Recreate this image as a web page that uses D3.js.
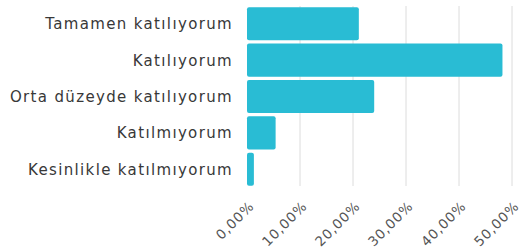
<!DOCTYPE html>
<html><head><meta charset="utf-8">
<script src="https://cdn.jsdelivr.net/npm/d3@7"></script>
<style>
html,body{margin:0;padding:0;background:#fff;}
svg{display:block;}
</style></head>
<body>
<svg id="chart" width="525" height="251"></svg>
<script>
const categories = ["Tamamen katılıyorum","Katılıyorum","Orta düzeyde katılıyorum","Katılmıyorum","Kesinlikle katılmıyorum"];
const values = [21.1, 48.2, 24.0, 5.4, 1.3];
const tickValues = [0,10,20,30,40,50];
const tickLabels = ["0,00%","10,00%","20,00%","30,00%","40,00%","50,00%"];

const svg = d3.select("#chart");
const x = d3.scaleLinear().domain([0,50]).range([247,512]);
const y = d3.scaleBand().domain(categories).range([5.5,187.5]).paddingInner(0.09).paddingOuter(0.045);

// gridlines
svg.append("g").selectAll("line").data(tickValues.slice(1)).join("line")
  .attr("x1",d=>x(d)).attr("x2",d=>x(d))
  .attr("y1",6).attr("y2",186)
  .attr("stroke","#dcdcdc").attr("stroke-width",1);

// bars
svg.append("g").selectAll("rect").data(values).join("rect")
  .attr("x",x(0))
  .attr("y",(d,i)=>y(categories[i]))
  .attr("width",d=>x(d)-x(0))
  .attr("height",y.bandwidth())
  .attr("rx",2).attr("ry",2)
  .attr("fill","#29bcd4");

// category labels
svg.append("g").selectAll("text").data(categories).join("text")
  .attr("x",233)
  .attr("y",d=>y(d)+y.bandwidth()/2)
  .attr("dy","0.36em")
  .attr("text-anchor","end")
  .attr("font-family","'DejaVu Sans', sans-serif")
  .attr("font-size",15)
  .attr("letter-spacing","1.35px")
  .attr("fill","#383838")
  .text(d=>d);

// tick labels
svg.append("g").selectAll("text").data(tickValues).join("text")
  .attr("transform",(d)=>`translate(${x(d)+8},207) rotate(-45)`)
  .attr("text-anchor","end")
  .attr("font-family","'DejaVu Sans', sans-serif")
  .attr("font-size",13.5)
  .attr("letter-spacing","0.9px")
  .attr("fill","#555")
  .text((d,i)=>tickLabels[i]);
</script>
</body></html>
